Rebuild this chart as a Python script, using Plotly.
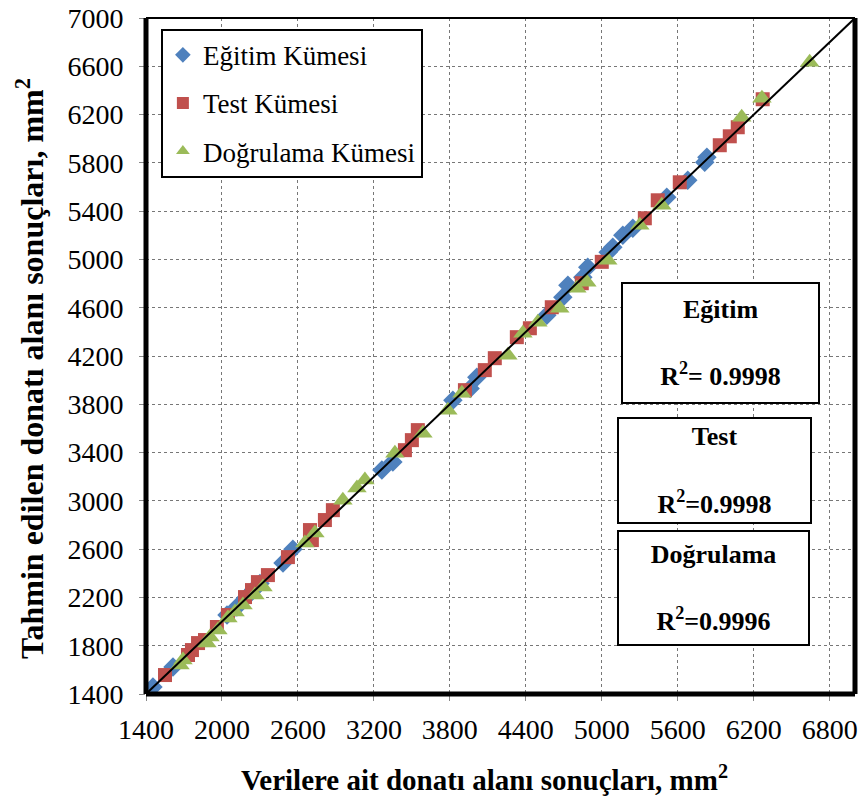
import plotly.graph_objects as go

# Eğitim Kümesi (training)
egitim_x = [1455, 1613, 2040, 2118, 2190, 2250, 2300, 2482, 2560, 3263, 3350, 3824, 3960, 4013,
            4566, 4692, 4732, 4850, 4889, 5050, 5087, 5166, 5245, 5513, 5679, 5813, 5830]
egitim_y = [1458, 1624, 2055, 2120, 2200, 2265, 2315, 2485, 2600, 3255, 3321, 3834, 3930, 4025,
            4538, 4687, 4786, 4853, 4936, 5060, 5101, 5200, 5258, 5515, 5656, 5805, 5846]

# Test Kümesi
test_x = [1550, 1732, 1763, 1811, 1866, 1960, 2047, 2182, 2237, 2284, 2363, 2521, 2695, 2710,
          2813, 2876, 3445, 3500, 3547, 3919, 4076, 4155, 4329, 4432, 4605, 4842, 5000, 5340,
          5442, 5616, 5932, 6011, 6074, 6271]
test_y = [1557, 1723, 1764, 1822, 1847, 1955, 2054, 2203, 2261, 2327, 2385, 2534, 2758, 2675,
          2841, 2923, 3420, 3503, 3586, 3917, 4083, 4182, 4356, 4430, 4604, 4803, 4980, 5341,
          5490, 5639, 5946, 6020, 6095, 6327]

# Doğrulama Kümesi (validation)
dogrulama_x = [1668, 1692, 1881, 1905, 1968, 2047, 2103, 2166, 2260, 2324, 2655, 2734, 2955, 3066,
               3129, 3366, 3587, 3784, 3895, 4258, 4377, 4495, 4668, 4803, 4882, 5047, 5300, 5474,
               6105, 6265, 6642]
dogrulama_y = [1640, 1681, 1822, 1872, 1930, 2029, 2079, 2137, 2220, 2286, 2650, 2733, 3006, 3106,
               3172, 3395, 3561, 3751, 3892, 4207, 4389, 4480, 4596, 4761, 4811, 4993, 5283, 5449,
               6178, 6335, 6633]

# 1:1 reference line
ref_line = [1400, 7000]

x_ticks = [1400, 2000, 2600, 3200, 3800, 4400, 5000, 5600, 6200, 6800]
y_ticks = [1400, 1800, 2200, 2600, 3000, 3400, 3800, 4200, 4600, 5000, 5400, 5800, 6200, 6600, 7000]

FONT = "Liberation Serif"

fig = go.Figure()
fig.add_trace(go.Scatter(x=egitim_x, y=egitim_y, mode="markers", name="Eğitim Kümesi",
                         legendgroup="a",
                         marker=dict(symbol="diamond", size=15, color="#4F81BD")))
fig.add_trace(go.Scatter(x=test_x, y=test_y, mode="markers", name="Test Kümesi",
                         legendgroup="b",
                         marker=dict(symbol="square", size=14, color="#C0504D")))
fig.add_trace(go.Scatter(x=dogrulama_x, y=dogrulama_y, mode="markers", name="Doğrulama Kümesi",
                         legendgroup="c",
                         marker=dict(symbol="triangle-up", size=17, color="#9BBB59")))
fig.add_trace(go.Scatter(x=ref_line, y=ref_line, mode="lines", showlegend=False,
                         line=dict(color="black", width=2)))

axis_common = dict(showgrid=True, gridcolor="#777777", griddash="dot", gridwidth=1,
                   zeroline=False, showline=False, ticks="outside", ticklen=6,
                   tickcolor="#888888", tickwidth=1, automargin=False,
                   ticklabeloverflow="allow",
                   tickfont=dict(family=FONT, size=28, color="black"))

fig.update_xaxes(range=[1400, 7000], tickvals=x_ticks, ticklabelstandoff=4, **axis_common)
fig.update_yaxes(range=[1400, 7000], tickvals=y_ticks, ticklabelstandoff=10, **axis_common)

shapes = [
    dict(type="line", xref="paper", yref="paper", x0=0, x1=0, y0=0, y1=1,
         line=dict(color="black", width=5)),
    dict(type="line", xref="paper", yref="paper", x0=0, x1=1, y0=0, y1=0,
         line=dict(color="black", width=5)),
    dict(type="line", xref="paper", yref="paper", x0=1, x1=1, y0=0, y1=1,
         line=dict(color="black", width=5)),
    dict(type="line", xref="paper", yref="paper", x0=0, x1=1, y0=1, y1=1,
         line=dict(color="black", width=2)),
]

box_font = dict(family=FONT, size=26, color="black")
annotations = [
    dict(text="<b>Eğitim</b><br><br><b>R<sup>2</sup>= 0.9998</b>", xref="paper", yref="paper",
         x=0.810, y=0.519, xanchor="center", yanchor="middle", showarrow=False,
         width=195, height=118, bordercolor="black", borderwidth=2, borderpad=0,
         bgcolor="white", font=box_font),
    dict(text="<b>Test</b><br><br><b>R<sup>2</sup>=0.9998</b>", xref="paper", yref="paper",
         x=0.802, y=0.331, xanchor="center", yanchor="middle", showarrow=False,
         width=191, height=103, bordercolor="black", borderwidth=2, borderpad=0,
         bgcolor="white", font=box_font),
    dict(text="<b>Doğrulama</b><br><br><b>R<sup>2</sup>=0.9996</b>", xref="paper", yref="paper",
         x=0.800, y=0.157, xanchor="center", yanchor="middle", showarrow=False,
         width=189, height=112, bordercolor="black", borderwidth=2, borderpad=0,
         bgcolor="white", font=box_font),
    dict(text="<b>Verilere ait donatı alanı sonuçları, mm<sup>2</sup></b>", xref="paper",
         yref="paper", x=0.477, y=-0.124, xanchor="center", yanchor="middle",
         showarrow=False, font=dict(family=FONT, size=29, color="black")),
    dict(text="<b>Tahmin edilen donatı alanı sonuçları, mm<sup>2</sup></b>", xref="paper",
         yref="paper", x=-0.164, y=0.482, xanchor="center", yanchor="middle",
         textangle=-90, showarrow=False, font=dict(family=FONT, size=32, color="black")),
]

fig.update_layout(
    width=864, height=799,
    margin=dict(l=146, r=9, t=18, b=105, autoexpand=False),
    paper_bgcolor="white", plot_bgcolor="white",
    font=dict(family=FONT),
    shapes=shapes, annotations=annotations,
    legend=dict(x=0.021, y=0.984, xanchor="left", yanchor="top",
                bgcolor="white", bordercolor="black", borderwidth=2,
                font=dict(family=FONT, size=27, color="black"),
                tracegroupgap=10, itemsizing="constant"),
)

# remove the browser's default 8px body margin so the figure fills the window exactly
fig.write_html("out.html", config={"displayModeBar": False},
               post_script="document.body.style.margin='0';")
